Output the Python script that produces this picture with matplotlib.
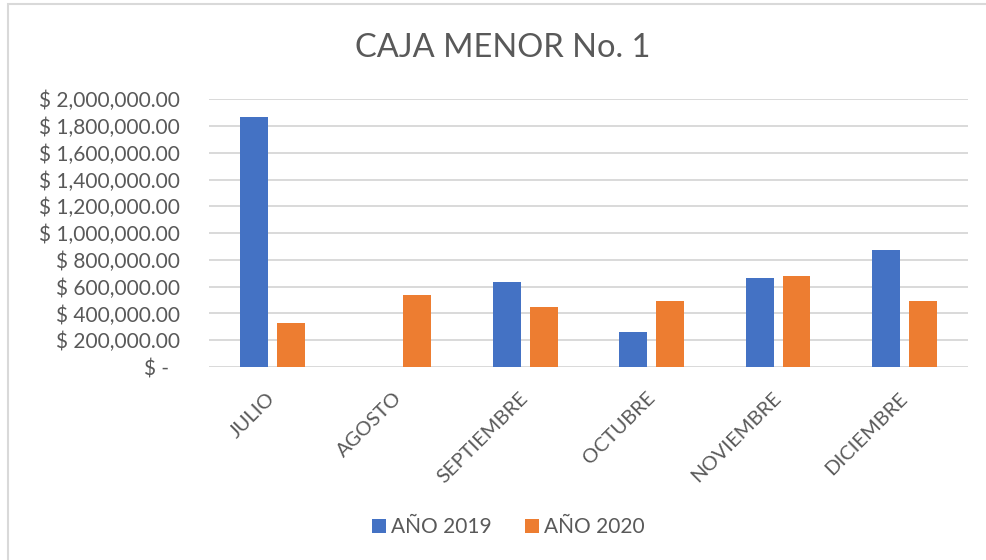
import matplotlib
matplotlib.use("Agg")
import matplotlib.pyplot as plt
import matplotlib.patches as patches
from matplotlib.ticker import FuncFormatter
from matplotlib.transforms import ScaledTranslation
import numpy as np

meses = ["JULIO", "AGOSTO", "SEPTIEMBRE", "OCTUBRE", "NOVIEMBRE", "DICIEMBRE"]
anio_2019 = [1865000, 0, 633000, 264000, 663000, 874000]
anio_2020 = [326000, 540000, 448000, 496000, 680000, 496000]
series_labels = ["AÑO 2019", "AÑO 2020"]
yticks = np.arange(0, 2000001, 200000)

AZUL = "#4472C4"
NARANJA = "#ED7D31"
GRIS_TXT = "#595959"
GRIS_LINEA = "#D9D9D9"

plt.rcParams["font.family"] = ["Lato", "DejaVu Sans"]

fig = plt.figure(figsize=(9.87, 5.6), dpi=100)
ax = fig.add_axes([0.2118, 0.3446, 0.7689, 0.4781])

x = np.arange(len(meses))
w = 0.22
off = 0.145
ax.bar(x - off, anio_2019, w, color=AZUL, label=series_labels[0], zorder=3)
ax.bar(x + off, anio_2020, w, color=NARANJA, label=series_labels[1], zorder=3)

ax.set_xlim(-0.5, len(meses) - 0.5)
ax.set_ylim(0, 2000000)
ax.set_yticks(yticks)

def fmt_peso(v, pos):
    if v == 0:
        return "$ -  "
    return "$ {:,.2f}".format(v)

ax.yaxis.set_major_formatter(FuncFormatter(fmt_peso))
ax.tick_params(axis="y", length=0, pad=21, labelsize=15, labelcolor=GRIS_TXT)
ax.grid(axis="y", color=GRIS_LINEA, linewidth=1.4, zorder=0)
for s in ax.spines.values():
    s.set_visible(False)

ax.set_xticks(x)
ax.set_xticklabels(meses, rotation=45, ha="right", va="top")
ax.tick_params(axis="x", length=0, pad=16, labelsize=14.5, labelcolor=GRIS_TXT)
# en Excel el final del texto queda un poco a la derecha del centro
desplaza = ScaledTranslation(0.06, 0, fig.dpi_scale_trans)
for lbl in ax.get_xticklabels():
    lbl.set_transform(lbl.get_transform() + desplaza)

fig.text(0.509, 0.914, "CAJA MENOR No. 1", ha="center", va="center",
         fontsize=23.5, color=GRIS_TXT)

fig.legend(loc="center", bbox_to_anchor=(0.515, 0.059), ncol=2, frameon=False,
           fontsize=15, labelcolor=GRIS_TXT, handlelength=0.65, handleheight=0.65,
           handletextpad=0.25, columnspacing=1.6)

borde = patches.Rectangle((8 / 987, -0.1), 2, 1.1 - 4 / 560, transform=fig.transFigure,
                          fill=False, edgecolor=GRIS_LINEA, linewidth=1.5)
fig.patches.append(borde)

fig.savefig("out.png", dpi=100, facecolor="white")
